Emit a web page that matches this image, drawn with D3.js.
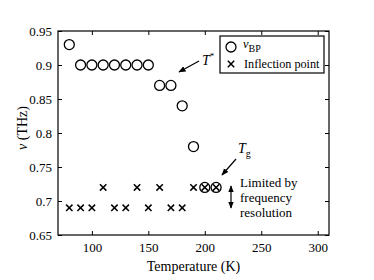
<!DOCTYPE html>
<html lang="en">
<head>
<meta charset="utf-8">
<title>Boson peak vs temperature</title>
<script src="https://d3js.org/d3.v7.min.js"></script>
<style>
  body { margin: 0; background: #fff; }
</style>
</head>
<body>
<script>
// Data
var bpTemp = [80, 90, 100, 110, 120, 130, 140, 150, 160, 170, 180, 190, 200, 210];
var bpNu   = [0.93, 0.9, 0.9, 0.9, 0.9, 0.9, 0.9, 0.9, 0.87, 0.87, 0.84, 0.78, 0.72, 0.72];
var ipTemp = [80, 90, 100, 110, 120, 130, 140, 150, 160, 170, 180, 190, 200, 210];
var ipNu   = [0.69, 0.69, 0.69, 0.72, 0.69, 0.69, 0.72, 0.69, 0.72, 0.69, 0.69, 0.72, 0.72, 0.72];
var xTicks = [100, 150, 200, 250, 300];
var yTicks = [0.65, 0.7, 0.75, 0.8, 0.85, 0.9, 0.95];

var serif = "'Liberation Serif', 'Times New Roman', 'DejaVu Serif', serif";

var w = 374, h = 280;
var margin = {top: 31, right: 45, bottom: 45, left: 58};
var iw = w - margin.left - margin.right;
var ih = h - margin.top - margin.bottom;

var x = d3.scaleLinear().domain([70, 310]).range([0, iw]);
var y = d3.scaleLinear().domain([0.65, 0.95]).range([ih, 0]);

var svg = d3.select("body").append("svg")
  .attr("width", w).attr("height", h)
  .style("font-family", serif);

svg.append("defs").append("marker")
  .attr("id", "head")
  .attr("viewBox", "0 0 10 10")
  .attr("refX", 9).attr("refY", 5)
  .attr("markerWidth", 6).attr("markerHeight", 6)
  .attr("orient", "auto-start-reverse")
  .append("path").attr("d", "M0,1 L10,5 L0,9 Z").attr("fill", "#000");

var g = svg.append("g").attr("transform", "translate(" + margin.left + "," + margin.top + ")");

// axes, ticks inward on all sides
function styleAxis(sel) {
  sel.attr("font-family", null).attr("font-size", null);
  sel.select(".domain").remove();
  sel.selectAll("line").attr("stroke", "#000").attr("stroke-width", 1);
  sel.selectAll("text").style("font-family", serif).style("font-size", "13px").attr("fill", "#000");
}
g.append("g").attr("transform", "translate(0," + ih + ")")
  .call(d3.axisBottom(x).tickValues(xTicks).tickSizeInner(-4).tickSizeOuter(0).tickPadding(8))
  .call(styleAxis);
g.append("g")
  .call(d3.axisLeft(y).tickValues(yTicks).tickFormat(d3.format("")).tickSizeInner(-4).tickSizeOuter(0).tickPadding(6))
  .call(styleAxis);
g.append("g")
  .call(d3.axisTop(x).tickValues(xTicks).tickSizeInner(-4).tickSizeOuter(0).tickFormat(""))
  .call(styleAxis);
g.append("g").attr("transform", "translate(" + iw + ",0)")
  .call(d3.axisRight(y).tickValues(yTicks).tickSizeInner(-4).tickSizeOuter(0).tickFormat(""))
  .call(styleAxis);

g.append("rect").attr("width", iw).attr("height", ih)
  .attr("fill", "none").attr("stroke", "#000").attr("stroke-width", 1.2);

// boson peak circles
g.selectAll("circle.bp").data(bpTemp).enter().append("circle")
  .attr("class", "bp")
  .attr("cx", function (d) { return x(d); })
  .attr("cy", function (d, i) { return y(bpNu[i]); })
  .attr("r", 5)
  .attr("fill", "none").attr("stroke", "#000").attr("stroke-width", 1.3);

// inflection point crosses
var cs = 3.2;
g.selectAll("path.ip").data(ipTemp).enter().append("path")
  .attr("class", "ip")
  .attr("d", function (d, i) {
    var cx = x(d), cy = y(ipNu[i]);
    return "M" + (cx - cs) + "," + (cy - cs) + "L" + (cx + cs) + "," + (cy + cs) +
           "M" + (cx - cs) + "," + (cy + cs) + "L" + (cx + cs) + "," + (cy - cs);
  })
  .attr("stroke", "#000").attr("stroke-width", 1.5);

// legend
var lg = svg.append("g").attr("transform", "translate(220,36)");
lg.append("rect").attr("width", 104).attr("height", 37)
  .attr("fill", "#fff").attr("stroke", "#000").attr("stroke-width", 1.2);
lg.append("circle").attr("cx", 11).attr("cy", 11).attr("r", 5)
  .attr("fill", "none").attr("stroke", "#000").attr("stroke-width", 1.3);
lg.append("path")
  .attr("d", "M" + (11 - cs) + "," + (28 - cs) + "L" + (11 + cs) + "," + (28 + cs) +
             "M" + (11 - cs) + "," + (28 + cs) + "L" + (11 + cs) + "," + (28 - cs))
  .attr("stroke", "#000").attr("stroke-width", 1.5);
var lt = lg.append("text").attr("x", 23).attr("y", 12).style("font-size", "12.5px");
lt.append("tspan").style("font-style", "italic").text("ν");
lt.append("tspan").attr("dy", 4).style("font-size", "10px").text("BP");
lg.append("text").attr("x", 24).attr("y", 32).style("font-size", "12.2px").text("Inflection point");

// T* annotation
var ts = svg.append("text").attr("x", 202).attr("y", 65).style("font-size", "14px");
ts.append("tspan").style("font-style", "italic").text("T");
ts.append("tspan").attr("dy", -6).style("font-size", "9px").text("*");
svg.append("line").attr("x1", 199).attr("y1", 61).attr("x2", 179).attr("y2", 72)
  .attr("stroke", "#000").attr("stroke-width", 1.2).attr("marker-end", "url(#head)");

// Tg annotation
var tg = svg.append("text").attr("x", 238).attr("y", 153).style("font-size", "14px");
tg.append("tspan").style("font-style", "italic").text("T");
tg.append("tspan").attr("dy", 4).style("font-size", "10px").text("g");
svg.append("line").attr("x1", 236).attr("y1", 159).attr("x2", 222).attr("y2", 175)
  .attr("stroke", "#000").attr("stroke-width", 1.2).attr("marker-end", "url(#head)");

// resolution note with double arrow
svg.append("line").attr("x1", 231).attr("y1", 186).attr("x2", 231).attr("y2", 208)
  .attr("stroke", "#000").attr("stroke-width", 1.2)
  .attr("marker-start", "url(#head)").attr("marker-end", "url(#head)");
var notes = ["Limited by", "frequency", "resolution"];
svg.selectAll("text.note").data(notes).enter().append("text")
  .attr("class", "note")
  .attr("x", 240).attr("y", function (d, i) { return 187 + i * 15; })
  .style("font-size", "13px").text(function (d) { return d; });

// axis titles
svg.append("text").attr("x", margin.left + iw / 2).attr("y", 271)
  .attr("text-anchor", "middle").style("font-size", "14px").text("Temperature (K)");
var yl = svg.append("text")
  .attr("transform", "translate(27,128) rotate(-90)")
  .attr("text-anchor", "middle").style("font-size", "14px");
yl.append("tspan").style("font-style", "italic").text("ν");
yl.append("tspan").text(" (THz)");
</script>
</body>
</html>
